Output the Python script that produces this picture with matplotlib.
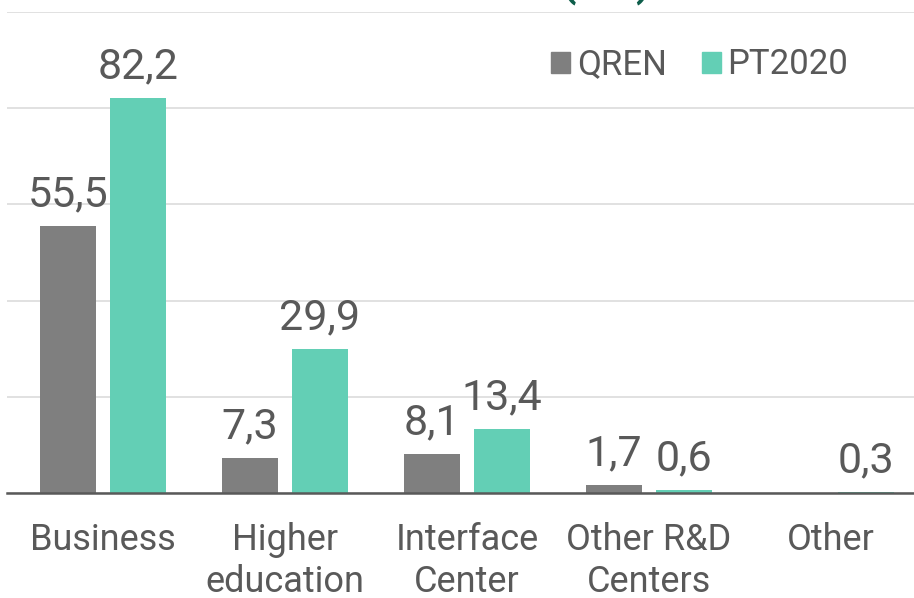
import matplotlib.pyplot as plt
from matplotlib.patches import Patch
import numpy as np

plt.rcParams['font.family'] = ['Roboto', 'DejaVu Sans']

categories = ['Business', 'Higher\neducation', 'Interface\nCenter', 'Other R&D\nCenters', 'Other']
qren = [55.5, 7.3, 8.1, 1.7, None]
pt2020 = [82.2, 29.9, 13.4, 0.6, 0.3]

grey = '#7F7F7F'
teal = '#63CFB5'
txt = '#595959'

fig = plt.figure(figsize=(9.14, 5.98), dpi=100)
ax = fig.add_axes([7 / 914, 105 / 598, 907 / 914, 481 / 598])

x = np.arange(len(categories))
w = 0.308
off = 0.192

q_vals = [v if v is not None else 0 for v in qren]
b1 = ax.bar(x - off, q_vals, w, color=grey)
b2 = ax.bar(x + off, pt2020, w, color=teal)

# value labels, comma decimals
for bars, vals in [(b1, qren), (b2, pt2020)]:
    for rect, v in zip(bars, vals):
        if v is None:
            continue
        ax.annotate(f'{v:.1f}'.replace('.', ','),
                    (rect.get_x() + rect.get_width() / 2, v),
                    xytext=(0, 14), textcoords='offset points',
                    ha='center', va='baseline', fontsize=31, color=txt)

ax.set_xlim(-0.527, 4.456)
ax.set_ylim(0, 100)
ax.set_yticks([0, 20, 40, 60, 80, 100])
ax.set_yticklabels([])
ax.tick_params(axis='y', length=0)
ax.yaxis.grid(True, color='#D9D9D9', lw=1.1)
ax.set_axisbelow(True)

ax.set_xticks(x)
ax.set_xticklabels(categories, fontsize=26, color=txt, linespacing=1.2)
ax.tick_params(axis='x', length=0, pad=21)

for s in ['top', 'left', 'right']:
    ax.spines[s].set_visible(False)
ax.spines['bottom'].set_color(txt)
ax.spines['bottom'].set_linewidth(1.8)

handles = [Patch(color=grey, label='QREN'), Patch(color=teal, label='PT2020')]
fig.legend(handles=handles, loc='center left', bbox_to_anchor=(537 / 914, 1 - 65 / 598),
           ncol=2, frameon=False, fontsize=25, handlelength=0.55, handleheight=0.55,
           handletextpad=0.2, columnspacing=1.0, labelcolor=txt, borderaxespad=0)

# title is cropped at the top of the picture
fig.text(606 / 914, 1 + 3 / 598, '(M€)', ha='center', va='baseline',
         fontsize=30, color='#0E5E4B', fontweight='bold')

fig.savefig('out.png', dpi=100)
